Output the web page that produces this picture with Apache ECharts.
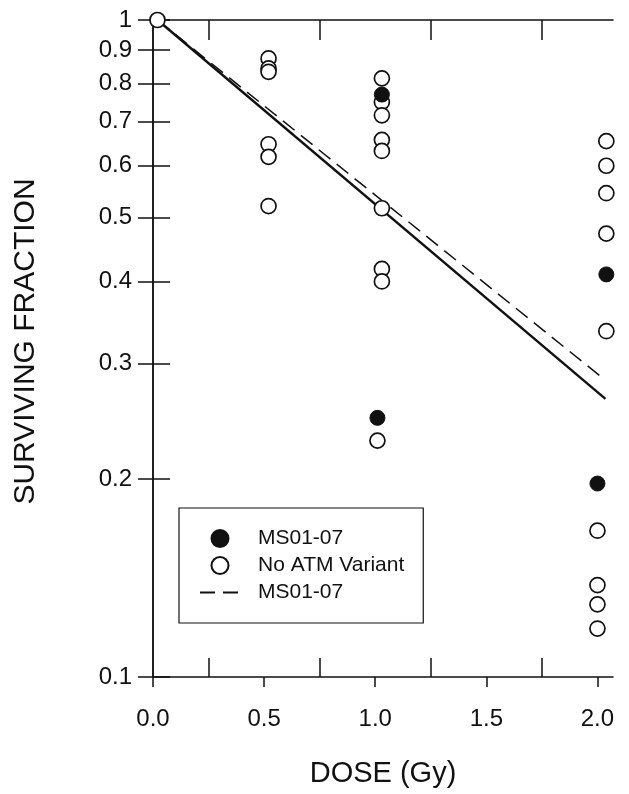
<!DOCTYPE html>
<html>
<head>
<meta charset="utf-8">
<script src="https://cdn.jsdelivr.net/npm/echarts@6/dist/echarts.min.js"></script>
<style>
html,body{margin:0;padding:0;background:#fff;}
#chart{width:629px;height:794px;}
</style>
</head>
<body>
<div id="chart"></div>
<script>
// ---- data ----
const xTickValues = [0, 0.5, 1.0, 1.5, 2.0];
const xMinorTickValues = [0.25, 0.75, 1.25, 1.75];
const yTickValues = [0.1, 0.2, 0.3, 0.4, 0.5, 0.6, 0.7, 0.8, 0.9, 1];

// filled circles: MS01-07
const ms0107Points = [
  [1.03, 0.770], [1.01, 0.248],
  [2.04, 0.410], [2.00, 0.197]
];
// open circles: No ATM Variant
const noAtmPoints = [
  [0.02, 1.0],
  [0.52, 0.874], [0.52, 0.844], [0.52, 0.834], [0.52, 0.647], [0.52, 0.619], [0.52, 0.521],
  [1.03, 0.815], [1.03, 0.750], [1.03, 0.716], [1.03, 0.657], [1.03, 0.632], [1.03, 0.517],
  [1.03, 0.418], [1.03, 0.400], [1.01, 0.229],
  [2.04, 0.654], [2.04, 0.600], [2.04, 0.545], [2.04, 0.473], [2.04, 0.336],
  [2.00, 0.167], [2.00, 0.138], [2.00, 0.129], [2.00, 0.1185]
];
// fitted lines
const solidFit = [[0.02, 1.0], [2.036, 0.265]];
const dashedFit = [[0.02, 1.0], [2.03, 0.284]];

const FONT = 'Liberation Sans, Arial, sans-serif';
const INK = '#111';

const chart = echarts.init(document.getElementById('chart'), null, {renderer: 'canvas'});

const option = {
  backgroundColor: '#fff',
  animation: false,
  grid: {left: 153, right: 16, top: 20, bottom: 117, containLabel: false},
  xAxis: [
    {
      type: 'value', min: 0, max: 2.07, position: 'bottom',
      name: 'DOSE (Gy)', nameLocation: 'middle', nameGap: 82,
      nameTextStyle: {fontFamily: FONT, fontSize: 29, color: INK},
      axisLine: {show: true, lineStyle: {color: INK, width: 1.5}},
      axisTick: {show: true, inside: false, length: 10, customValues: xTickValues, lineStyle: {color: INK, width: 1.5}},
      axisLabel: {show: true, customValues: xTickValues, margin: 30, fontFamily: FONT, fontSize: 24, color: INK,
        formatter: v => Number(v).toFixed(1)},
      splitLine: {show: false}
    },
    {
      type: 'value', min: 0, max: 2.07, position: 'bottom',
      axisLine: {show: false},
      axisTick: {show: true, inside: true, length: 19, customValues: xMinorTickValues, lineStyle: {color: INK, width: 1.5}},
      axisLabel: {show: false},
      splitLine: {show: false}
    },
    {
      type: 'value', min: 0, max: 2.07, position: 'top',
      axisLine: {show: true, lineStyle: {color: INK, width: 1.5}},
      axisTick: {show: true, inside: true, length: 20, customValues: xMinorTickValues, lineStyle: {color: INK, width: 1.5}},
      axisLabel: {show: false},
      splitLine: {show: false}
    }
  ],
  yAxis: [
    {
      type: 'log', logBase: 10, min: 0.1, max: 1, position: 'left',
      name: 'SURVIVING FRACTION', nameLocation: 'middle', nameGap: 112,
      nameTextStyle: {fontFamily: FONT, fontSize: 30, color: INK, padding: [0, 0, 0, 14]},
      axisLine: {show: true, lineStyle: {color: INK, width: 1.5}},
      axisTick: {show: true, inside: true, length: 17, customValues: yTickValues, lineStyle: {color: INK, width: 1.5}},
      axisLabel: {show: true, customValues: yTickValues, margin: 21, fontFamily: FONT, fontSize: 24, color: INK,
        formatter: v => (Math.abs(v - 1) < 1e-9 ? '1' : Number(v).toFixed(1))},
      splitLine: {show: false}
    },
    {
      type: 'log', logBase: 10, min: 0.1, max: 1, position: 'right',
      axisLine: {show: true, lineStyle: {color: INK, width: 1.5}},
      axisTick: {show: true, inside: true, length: 15, customValues: yTickValues, lineStyle: {color: INK, width: 1.5}},
      axisLabel: {show: false},
      splitLine: {show: false}
    }
  ],
  legend: {
    orient: 'vertical', left: 179, top: 508,
    data: ['MS01-07', 'No ATM Variant', 'MS01-07 fit'],
    formatter: n => (n === 'MS01-07 fit' ? 'MS01-07' : n),
    itemWidth: 40, itemHeight: 17, itemGap: 6,
    padding: [20, 19, 20, 20],
    borderColor: INK, borderWidth: 1.2, backgroundColor: '#fff',
    selectedMode: false,
    textStyle: {fontFamily: FONT, fontSize: 21, color: INK, padding: [0, 0, 0, 13]}
  },
  series: [
    {
      name: 'No ATM fit', type: 'line', data: solidFit, xAxisIndex: 0, yAxisIndex: 0,
      symbol: 'none', lineStyle: {color: INK, width: 2.4, type: 'solid'}, z: 2
    },
    {
      name: 'MS01-07 fit', type: 'line', data: dashedFit, xAxisIndex: 0, yAxisIndex: 0,
      symbol: 'none', itemStyle: {color: 'transparent', borderWidth: 0},
      lineStyle: {color: INK, width: 1.5, type: [15, 8]}, z: 2
    },
    {
      name: 'No ATM Variant', type: 'scatter', data: noAtmPoints, xAxisIndex: 0, yAxisIndex: 0,
      symbol: 'circle', symbolSize: 15,
      itemStyle: {color: '#fff', borderColor: INK, borderWidth: 1.7, opacity: 1}, z: 3
    },
    {
      name: 'MS01-07', type: 'scatter', data: ms0107Points, xAxisIndex: 0, yAxisIndex: 0,
      symbol: 'circle', symbolSize: 15,
      itemStyle: {color: INK, borderColor: INK, borderWidth: 1, opacity: 1}, z: 4
    }
  ]
};
chart.setOption(option);
</script>
</body>
</html>
